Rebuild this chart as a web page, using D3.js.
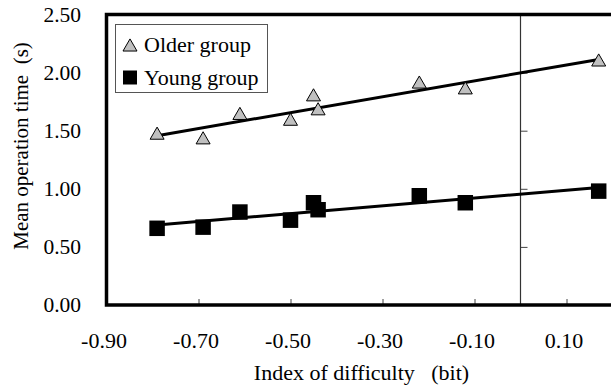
<!DOCTYPE html>
<html>
<head>
<meta charset="utf-8">
<script src="https://cdn.jsdelivr.net/npm/d3@7"></script>
<style>
  body { margin: 0; background: #fff; }
  svg { display: block; font-family: "Liberation Serif", "Times New Roman", serif; }
</style>
</head>
<body>
<svg id="chart" width="611" height="388"></svg>
<script>
// index of difficulty (bit) and mean operation time (s)
var idOlder   = [-0.79, -0.69, -0.61, -0.50, -0.45, -0.44, -0.22, -0.12, 0.17];
var timeOlder = [ 1.47,  1.43,  1.64,  1.59,  1.80,  1.68,  1.91,  1.86, 2.10];
var idYoung   = [-0.79, -0.69, -0.61, -0.50, -0.45, -0.44, -0.22, -0.12, 0.17];
var timeYoung = [ 0.66,  0.67,  0.80,  0.73,  0.88,  0.82,  0.94,  0.88, 0.98];

var xTicks = [-0.9, -0.7, -0.5, -0.3, -0.1, 0.1];
var yTicks = [0, 0.5, 1.0, 1.5, 2.0, 2.5];
var seriesNames = ['Older group', 'Young group'];

(function(){

var svg = d3.select('#chart');

var plotLeft = 106.5, plotTop = 14.5, plotBottom = 305;

var x = d3.scaleLinear()
  .domain([-0.9, 0.2])
  .range([plotLeft, 612.5]);

var y = d3.scaleLinear()
  .domain([0, 2.5])
  .range([plotBottom, plotTop]);

// excel style labels: plain hyphen, two decimals
var fmt = function(v){ return v.toFixed(2); };

function zip(xs, ys){
  return xs.map(function(v, i){ return { x: v, y: ys[i] }; });
}

// least squares trendline, drawn over the span of the points
function trend(pts){
  var mx = d3.mean(pts, function(d){ return d.x; }),
    my = d3.mean(pts, function(d){ return d.y; });
  var sxy = d3.sum(pts, function(d){ return (d.x - mx) * (d.y - my); }),
    sxx = d3.sum(pts, function(d){ return (d.x - mx) * (d.x - mx); });
  var b = sxy / sxx, a = my - b * mx;
  var ext = d3.extent(pts, function(d){ return d.x; });
  return ext.map(function(v){ return { x: v, y: a + b * v }; });
}

var older = zip(idOlder, timeOlder),
  young = zip(idYoung, timeYoung);

// x tick marks point up from the bottom border
svg.append('g')
  .attr('transform', 'translate(0,' + plotBottom + ')')
  .call(d3.axisTop(x).tickValues(xTicks).tickSize(6).tickFormat(''))
  .call(function(g){
    g.select('.domain').remove();
    g.selectAll('line').attr('stroke', '#444');
  });

// x tick labels
svg.append('g')
  .attr('transform', 'translate(0,' + plotBottom + ')')
  .call(d3.axisBottom(x).tickValues(xTicks).tickSize(0).tickFormat(fmt))
  .call(function(g){
    g.select('.domain').remove();
    g.selectAll('text')
      .attr('y', 43)
      .attr('dy', 0)
      .attr('dx', -3)
      .attr('fill', '#000')
      .style('font-size', '22px')
      .style('font-family', '"Liberation Serif", "Times New Roman", serif');
  });

// y axis line sits at x = 0 with ticks to the right
svg.append('g')
  .attr('transform', 'translate(' + x(0) + ',0)')
  .call(d3.axisRight(y).tickValues(yTicks).tickSize(7).tickFormat(''))
  .call(function(g){
    g.select('.domain').remove();
    g.selectAll('line').attr('stroke', '#444');
  });

svg.append('line')
  .attr('x1', x(0)).attr('x2', x(0))
  .attr('y1', plotTop).attr('y2', plotBottom)
  .attr('stroke', '#333')
  .attr('stroke-width', 1.2);

// y tick labels at the left of the plot
svg.append('g')
  .attr('transform', 'translate(84,0)')
  .call(d3.axisLeft(y).tickValues(yTicks).tickSize(0).tickPadding(3).tickFormat(fmt))
  .call(function(g){
    g.select('.domain').remove();
    g.selectAll('text')
      .attr('fill', '#000')
      .style('font-size', '21.5px')
      .style('font-family', '"Liberation Serif", "Times New Roman", serif');
  });

var line = d3.line()
  .x(function(d){ return x(d.x); })
  .y(function(d){ return y(d.y); });

[older, young].forEach(function(pts){
  svg.append('path')
    .datum(trend(pts))
    .attr('d', line)
    .attr('fill', 'none')
    .attr('stroke', '#000')
    .attr('stroke-width', 3);
});

var tri = d3.symbol().type(d3.symbolTriangle).size(85),
  sq = d3.symbol().type(d3.symbolSquare).size(240);

svg.append('g').selectAll('path')
  .data(older)
  .enter().append('path')
  .attr('d', tri)
  .attr('transform', function(d){ return 'translate(' + x(d.x) + ',' + (y(d.y) + 1) + ')'; })
  .attr('fill', '#c0c0c0')
  .attr('stroke', '#000')
  .attr('stroke-width', 1);

svg.append('g').selectAll('path')
  .data(young)
  .enter().append('path')
  .attr('d', sq)
  .attr('transform', function(d){ return 'translate(' + x(d.x) + ',' + y(d.y) + ')'; })
  .attr('fill', '#000');

// plot frame, right side runs off the picture
svg.append('rect')
  .attr('x', plotLeft)
  .attr('y', plotTop)
  .attr('width', 640 - plotLeft)
  .attr('height', plotBottom - plotTop)
  .attr('fill', 'none')
  .attr('stroke', '#000')
  .attr('stroke-width', 3.5);

// legend
var lg = svg.append('g');
lg.append('rect')
  .attr('x', 115.5).attr('y', 24.5)
  .attr('width', 152).attr('height', 68)
  .attr('fill', '#fff')
  .attr('stroke', '#555')
  .attr('stroke-width', 1);

lg.append('path')
  .attr('d', tri)
  .attr('transform', 'translate(130,47)')
  .attr('fill', '#c0c0c0')
  .attr('stroke', '#000');

lg.append('path')
  .attr('d', d3.symbol().type(d3.symbolSquare).size(196))
  .attr('transform', 'translate(130,77.5)')
  .attr('fill', '#000');

lg.selectAll('text')
  .data(seriesNames)
  .enter().append('text')
  .attr('x', 144)
  .attr('y', function(d, i){ return i ? 85 : 52; })
  .style('font-size', '22px')
  .text(function(d){ return d; });

// axis titles
svg.append('text')
  .attr('x', 361.5)
  .attr('y', 380)
  .attr('text-anchor', 'middle')
  .style('font-size', '22px')
  .style('white-space', 'pre')
  .text('Index of difficulty   (bit)');

svg.append('text')
  .attr('transform', 'translate(28,146) rotate(-90)')
  .attr('text-anchor', 'middle')
  .style('font-size', '21px')
  .style('white-space', 'pre')
  .text('Mean operation time  (s)');

})();
</script>
</body>
</html>
